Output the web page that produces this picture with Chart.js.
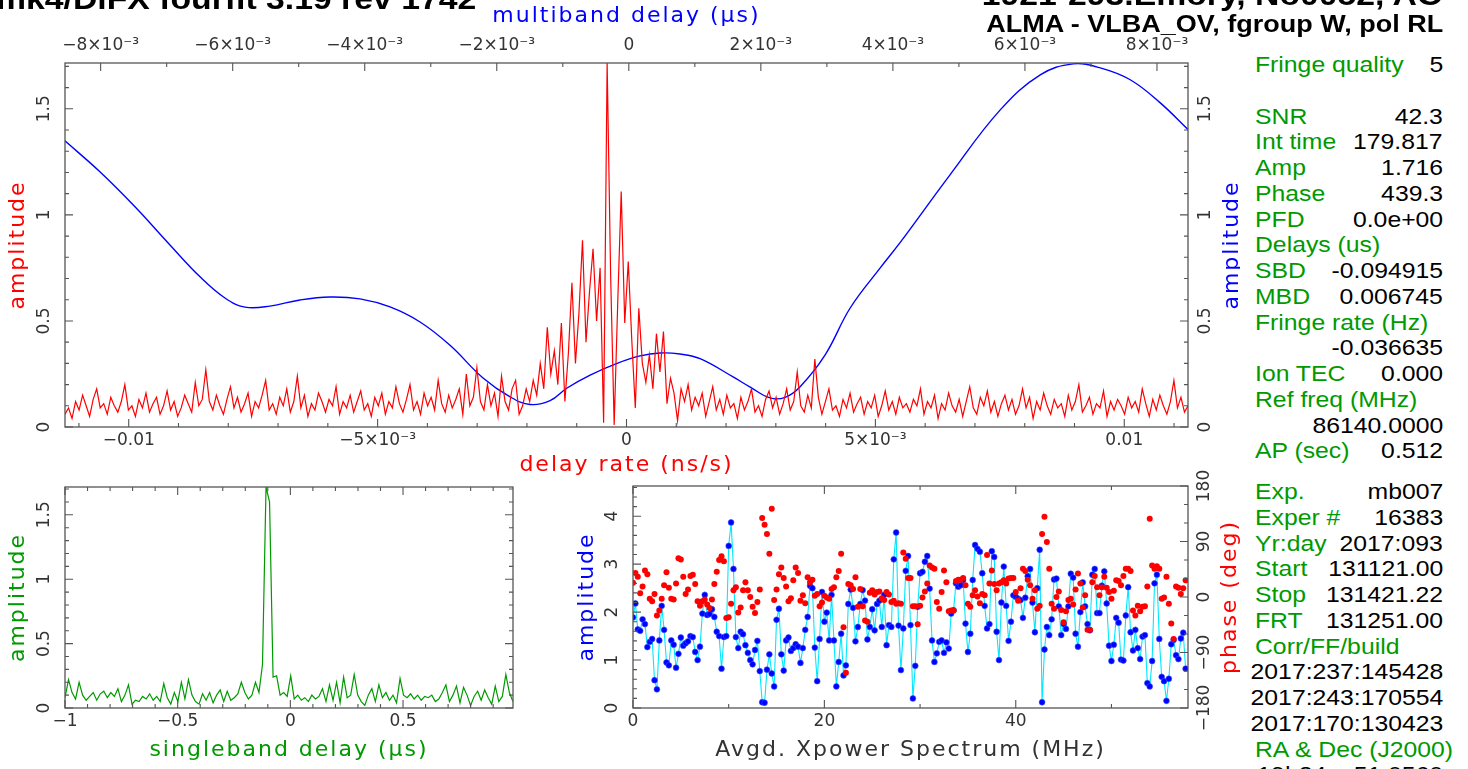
<!DOCTYPE html>
<html>
<head>
<meta charset="utf-8">
<script src="https://cdn.jsdelivr.net/npm/chart.js@4.4.1/dist/chart.umd.min.js"></script>
<style>
  html, body { margin: 0; padding: 0; background: #fff; }
  #page { position: relative; width: 1468px; height: 769px; overflow: hidden; background: #fff; }
  canvas { position: absolute; }
  .t { position: absolute; white-space: nowrap; line-height: 1; font-family: "Liberation Sans", Arial, sans-serif;
       font-size: 22px; transform: scaleX(1.125); transform-origin: left top; }
  .r { transform-origin: right top; text-align: right; }
  .g { color: #009a00; }
  .k { color: #000; }
  .b { font-weight: bold; color: #000; }
</style>
</head>
<body>
<div id="page">
  <canvas id="topChart" width="1240" height="480" style="left:0;top:0;width:1240px;height:480px"></canvas>
  <canvas id="sbdChart" width="560" height="299" style="left:0;top:470px;width:560px;height:299px"></canvas>
  <canvas id="specChart" width="680" height="299" style="left:560px;top:470px;width:680px;height:299px"></canvas>
  <div class="t b" style="left:-4px;top:-16px;font-size:30px">mk4/DiFX fourfit  3.19 rev 1742</div>
  <div class="t b r" style="right:25px;top:-20px;font-size:30px">1921-293.Emory, No0052, AO</div>
  <div class="t b r" style="right:25px;top:12px;font-size:24px">ALMA - VLBA_OV, fgroup W, pol RL</div>
</div>
<script>
// ---- delay rate spectrum (red, top panel) ----
const rateMin = -0.01128;
const rateMax = 0.01128;
const rateAmp = [
  0.06,0.09,0.04,0.12,0.08,0.15,0.10,0.05,0.13,0.18,0.09,0.11,0.06,0.14,0.10,0.07,0.12,0.20,0.08,0.10,
  0.05,0.13,0.09,0.16,0.07,0.11,0.14,0.06,0.10,0.17,0.08,0.12,0.05,0.09,0.15,0.11,0.07,0.21,0.10,0.13,
  0.27,0.12,0.08,0.15,0.10,0.06,0.13,0.19,0.09,0.14,0.07,0.11,0.16,0.05,0.12,0.09,0.15,0.22,0.08,0.11,
  0.06,0.14,0.10,0.18,0.07,0.12,0.24,0.09,0.15,0.05,0.11,0.08,0.16,0.12,0.07,0.13,0.10,0.19,0.06,0.12,
  0.09,0.15,0.07,0.12,0.17,0.08,0.11,0.05,0.14,0.10,0.16,0.06,0.12,0.09,0.19,0.11,0.07,0.13,0.20,0.08,
  0.12,0.06,0.16,0.10,0.14,0.08,0.22,0.11,0.07,0.15,0.09,0.13,0.18,0.06,0.25,0.10,0.14,0.28,0.12,0.08,
  0.20,0.10,0.16,0.05,0.24,0.12,0.08,0.18,0.22,0.06,
  0.10,0.18,0.12,0.22,0.15,0.30,0.18,0.47,0.25,0.36,0.20,0.49,0.12,0.35,0.68,0.30,0.54,0.88,0.40,0.64,
  0.84,0.50,0.75,0.02,1.716,0.71,0.01,0.58,1.11,0.49,0.78,0.41,0.09,0.56,0.30,0.21,0.34,0.18,0.44,0.26,
  0.45,0.11,0.23,0.16,0.03,0.18,0.12,0.20,0.08,0.14,
  0.10,0.16,0.05,0.12,0.19,0.08,0.13,0.06,0.15,0.09,0.11,0.04,0.14,0.08,0.12,0.18,0.07,0.10,0.05,0.13,
  0.17,0.09,0.14,0.06,0.11,0.18,0.08,0.12,0.26,0.10,0.07,0.15,0.09,0.32,0.14,0.06,0.12,0.18,0.08,0.10,
  0.05,0.13,0.09,0.16,0.07,0.11,0.14,0.06,0.12,0.09,0.15,0.05,0.10,0.17,0.08,0.12,0.06,0.14,0.09,0.11,
  0.07,0.13,0.10,0.18,0.06,0.12,0.09,0.15,0.04,0.11,0.08,0.16,0.10,0.07,0.13,0.05,0.12,0.19,0.09,0.06,
  0.14,0.10,0.17,0.07,0.12,0.05,0.11,0.15,0.08,0.13,0.06,0.10,0.18,0.09,0.14,0.04,0.12,0.08,0.16,0.10,
  0.06,0.13,0.09,0.11,0.05,0.15,0.08,0.12,0.20,0.07,0.10,0.14,0.06,0.11,0.09,0.17,0.05,0.12,0.08,0.13,
  0.10,0.06,0.14,0.09,0.12,0.07,0.18,0.11,0.05,0.13,0.08,0.15,0.10,0.06,0.12,0.22,0.09,0.14,0.07,0.10
];
const rateTicks = [-0.01, -0.005, 0, 0.005, 0.01];
const rateTickLabels = ['\u22120.01', '\u22125\u00d710\u207b\u00b3', '0', '5\u00d710\u207b\u00b3', '0.01'];

// ---- multiband delay function (blue, top panel) ----
const mbdMin = -0.00854;
const mbdMax = 0.00847;
const mbdDelay = [-0.008541,-0.008011,-0.007480,-0.006950,-0.006495,-0.006117,-0.005814,-0.005435,-0.004980,-0.004526,
  -0.004071,-0.003617,-0.003162,-0.002708,-0.002208,-0.001798,-0.001495,-0.001192,-0.000935,-0.000586,
  -0.000177,0.000171,0.000474,0.000777,0.001080,0.001580,0.001838,0.002141,0.002368,0.002595,
  0.002974,0.003353,0.003808,0.004111,0.004868,0.005626,0.006232,0.006732,0.007141,0.007595,0.008050,0.008474];
const mbdAmp = [1.349,1.203,1.038,0.858,0.708,0.608,0.565,0.570,0.599,0.613,
  0.604,0.566,0.495,0.385,0.231,0.142,0.106,0.124,0.184,0.245,
  0.300,0.335,0.349,0.344,0.322,0.236,0.188,0.137,0.140,0.190,
  0.340,0.561,0.750,0.870,1.190,1.495,1.660,1.712,1.693,1.637,1.528,1.401];
const mbdTicks = [-0.008,-0.006,-0.004,-0.002,0,0.002,0.004,0.006,0.008];
const mbdTickLabels = ['\u22128\u00d710\u207b\u00b3','\u22126\u00d710\u207b\u00b3','\u22124\u00d710\u207b\u00b3','\u22122\u00d710\u207b\u00b3','0',
  '2\u00d710\u207b\u00b3','4\u00d710\u207b\u00b3','6\u00d710\u207b\u00b3','8\u00d710\u207b\u00b3'];

const ampMax = 1.716;
const ampTicks = [0, 0.5, 1, 1.5];
const ampTickLabels = ['0', '0.5', '1', '1.5'];

// ---- singleband delay (green) ----
const sbdStart = -1;
const sbdStep = 0.01565;
const sbdAmp = [
  0.08,0.22,0.12,0.07,0.20,0.10,0.06,0.09,0.12,0.06,0.11,0.13,0.08,0.12,0.09,0.15,0.05,0.10,0.18,0.03,
  0.06,0.05,0.09,0.07,0.11,0.06,0.09,0.05,0.19,0.08,0.03,0.12,0.05,0.20,0.07,0.22,0.10,0.05,0.03,0.11,
  0.06,0.12,0.04,0.10,0.14,0.05,0.13,0.06,0.08,0.11,0.20,0.12,0.07,0.10,0.20,0.12,0.34,1.716,1.60,0.24,
  0.25,0.10,0.12,0.09,0.25,0.07,0.10,0.06,0.08,0.05,0.10,0.07,0.09,0.15,0.05,0.18,0.06,0.20,0.04,0.24,
  0.08,0.10,0.26,0.10,0.05,0.02,0.10,0.15,0.05,0.18,0.08,0.12,0.06,0.10,0.04,0.23,0.10,0.08,0.11,0.07,
  0.10,0.06,0.09,0.08,0.10,0.05,0.07,0.12,0.18,0.05,0.10,0.17,0.04,0.16,0.10,0.02,0.09,0.13,0.06,0.14,
  0.08,0.03,0.17,0.05,0.09,0.26,0.12,0.05
];
const sbdMax = 0.988;
const sbdTicks = [-1, -0.5, 0, 0.5];
const sbdTickLabels = ['\u22121', '\u22120.5', '0', '0.5'];

// ---- averaged cross-power spectrum ----
const specStep = 0.25;
const specMax = 58;
const specAmp = [
  1.89,2.18,1.64,1.61,1.85,1.75,1.27,1.38,1.44,0.58,0.39,1.41,2.13,1.63,0.95,0.89,1.41,1.32,0.84,1.13,
  1.47,1.30,1.35,1.39,1.50,1.48,1.17,1.00,1.28,1.97,2.36,1.94,1.96,2.06,1.90,1.59,1.50,0.82,1.48,1.50,
  3.38,3.87,2.90,1.48,1.25,1.59,1.54,1.31,1.15,1.00,0.91,1.21,1.40,0.77,0.12,0.11,0.80,1.12,0.72,0.45,
  1.84,2.07,1.12,0.78,1.41,1.47,1.19,1.25,1.33,1.28,0.94,1.25,1.63,1.90,2.55,2.50,1.26,0.56,1.44,2.42,
  1.80,1.99,1.41,2.36,1.41,0.45,0.96,1.55,0.68,0.89,2.17,2.47,2.09,1.39,1.69,2.17,2.46,2.24,1.43,1.69,
  2.06,1.62,2.17,2.24,1.69,2.36,1.31,1.73,1.69,3.10,3.66,
  1.72,0.79,1.66,2.86,3.17,1.73,0.20,0.88,2.11,2.81,2.84,3.05,3.17,2.49,1.41,0.96,1.14,1.38,1.41,1.15,
  1.37,1.24,1.97,2.04,2.60,2.53,2.56,2.67,1.76,1.17,1.55,2.67,3.40,3.32,3.26,2.81,2.13,1.66,1.75,3.27,
  3.15,1.59,1.00,2.20,2.95,2.13,1.40,1.80,2.35,2.32,2.28,2.25,1.88,2.30,2.75,2.90,2.20,1.58,2.50,3.30,
  0.12,1.22,1.69,1.52,1.85,2.68,2.70,2.12,1.52,1.75,1.65,2.12,2.80,2.72,1.55,1.28,2.00,2.62,2.12,1.75,
  1.62,2.78,2.90,1.98,1.98,2.55,2.85,2.18,1.30,0.98,1.32,1.88,1.78,1.01,0.99,1.93,2.52,1.58,1.20,1.63,
  1.25,1.02,1.49,1.52,0.52,0.45,0.98,2.60,2.78,1.44,0.65,0.56,0.15,0.61,1.33,1.42,1.10,1.02,1.45,1.57,
  0.82
];
const specPhase = [
  23,39,33,6,17,43,37,-3,-7,5,-30,-22,-3,19,40,15,-3,-4,22,63,
  61,33,5,12,34,36,21,-7,-14,-7,-4,-12,-18,-4,21,41,60,66,58,-34,
  -33,-11,11,16,-25,-17,11,24,11,0,-16,-26,-8,12,128,117,102,70,143,-5,
  12,37,48,31,17,-7,-2,27,48,39,-6,3,-10,32,24,28,2,5,-15,-9,
  2,-1,-3,13,16,32,42,70,-49,-123,21,19,13,32,-16,13,-15,-38,-40,7,
  11,4,8,9,-2,-5,8,4,-8,-6,-11,-10,-11,
  72,62,31,31,-15,-15,-44,-14,-1,9,22,51,48,46,-8,-19,8,43,24,-23,
  -22,-22,26,28,28,31,19,-11,-16,3,11,1,-10,5,3,68,22,43,21,11,
  22,24,27,22,30,31,31,8,-6,14,46,42,28,19,-3,11,-19,-14,102,130,
  89,46,-11,-19,0,9,-21,-41,-23,-5,-3,-12,12,38,22,-17,3,-53,-53,24,
  34,16,3,16,33,15,8,-3,10,27,26,19,34,46,46,42,-22,-30,-14,-23,
  -16,-15,17,127,51,46,50,46,-3,-1,33,-11,-43,-68,17,15,5,14,27
];
const specAmpMax = 4.63;
const specTicks = [0, 20, 40];
const specAmpTicks = [0, 1, 2, 3, 4];
const phaseTicks = [-180, -90, 0, 90, 180];
const phaseTickLabels = ['\u2212180', '\u221290', '0', '90', '180'];

// ---- text panel ----
const infoTop = [
  ['Fringe quality', '5'], null,
  ['SNR', '42.3'], ['Int time', '179.817'], ['Amp', '1.716'], ['Phase', '439.3'], ['PFD', '0.0e+00'],
  ['Delays (us)', ''], ['SBD', '-0.094915'], ['MBD', '0.006745'], ['Fringe rate (Hz)', ''], ['', '-0.036635'],
  ['Ion TEC', '0.000'], ['Ref freq (MHz)', ''], ['', '86140.0000'], ['AP (sec)', '0.512']
];
const infoBottom = [
  ['Exp.', 'mb007'], ['Exper #', '16383'], ['Yr:day', '2017:093'], ['Start', '131121.00'], ['Stop', '131421.22'],
  ['FRT', '131251.00'], ['Corr/FF/build', ''], ['', '2017:237:145428'], ['', '2017:243:170554'], ['', '2017:170:130423'],
  ['RA & Dec (J2000)', ''], ['', '19h24m  51.0560']
];

const RED = '#ff0000', BLUE = '#0000ff', GREEN = '#009a00', CYAN = '#00e8ff', INK = '#333';
const FAM = '"DejaVu Sans", sans-serif';

const page = document.getElementById('page');
function addRows(rows, top0, step) {
  rows.forEach((r, i) => {
    if (!r) return;
    const top = top0 + i * step;
    if (r[0]) {
      const d = document.createElement('div');
      d.className = 't g';
      d.style.left = '1255px'; d.style.top = top + 'px';
      d.textContent = r[0];
      page.appendChild(d);
    }
    if (r[1]) {
      const d = document.createElement('div');
      d.className = 't k r';
      d.style.right = '25px'; d.style.top = top + 'px';
      d.textContent = r[1];
      page.appendChild(d);
    }
  });
}
addRows(infoTop, 54, 25.75);
addRows(infoBottom, 481, 25.75);

// frame, inward ticks, rotated y labels and axis titles (PGPLOT style)
const pgBox = {
  id: 'pgBox',
  afterDatasetsDraw(chart, args, o) {
    const { ctx, chartArea: a, scales } = chart;
    ctx.save();
    ctx.strokeStyle = '#555';
    ctx.lineWidth = 1.3;
    ctx.strokeRect(a.left, a.top, a.right - a.left, a.bottom - a.top);
    ctx.lineWidth = 1.1;
    for (const t of o.ticks) {
      const s = scales[t.scale];
      const n0 = Math.ceil(s.min / t.minor - 1e-6), n1 = Math.floor(s.max / t.minor + 1e-6);
      ctx.beginPath();
      for (let n = n0; n <= n1; n++) {
        const v = n * t.minor;
        const r = v / t.major;
        const len = Math.abs(r - Math.round(r)) < 1e-6 ? 8 : 4;
        const p = s.getPixelForValue(v);
        for (const side of t.sides) {
          if (side === 'bottom') { ctx.moveTo(p, a.bottom); ctx.lineTo(p, a.bottom - len); }
          if (side === 'top') { ctx.moveTo(p, a.top); ctx.lineTo(p, a.top + len); }
          if (side === 'left') { ctx.moveTo(a.left, p); ctx.lineTo(a.left + len, p); }
          if (side === 'right') { ctx.moveTo(a.right, p); ctx.lineTo(a.right - len, p); }
        }
      }
      ctx.stroke();
    }
    ctx.textAlign = 'center';
    ctx.textBaseline = 'middle';
    ctx.font = '17px ' + FAM;
    for (const l of o.yLabels) {
      const s = scales[l.scale];
      ctx.fillStyle = INK;
      l.values.forEach((v, i) => {
        ctx.save();
        ctx.translate(l.x, s.getPixelForValue(v));
        ctx.rotate(-Math.PI / 2);
        ctx.fillText(l.labels[i], 0, 0);
        ctx.restore();
      });
    }
    ctx.font = '22px ' + FAM;
    ctx.letterSpacing = '2px';
    for (const ti of o.titles) {
      ctx.fillStyle = ti.color;
      ctx.save();
      if (ti.y !== undefined) {
        ctx.translate((a.left + a.right) / 2, ti.y);
      } else {
        ctx.translate(ti.x, (a.top + a.bottom) / 2);
        ctx.rotate(-Math.PI / 2);
      }
      ctx.fillText(ti.text, 0, 0);
      ctx.restore();
    }
    ctx.restore();
  }
};

function xAxis(opts) {
  return {
    type: 'linear', position: opts.position || 'bottom', min: opts.min, max: opts.max,
    afterFit: s => { s.height = opts.height; },
    afterBuildTicks: s => { s.ticks = opts.ticks.map(v => ({ value: v })); },
    ticks: { callback: (v, i) => opts.labels[i], font: { family: FAM, size: 17 }, color: INK,
             padding: opts.pad, autoSkip: false, maxRotation: 0, minRotation: 0 },
    grid: { display: false, drawTicks: false, tickLength: 0 },
    border: { display: false },
    title: { display: false }
  };
}
function yAxis(opts) {
  return {
    type: 'linear', position: opts.position || 'left', min: opts.min, max: opts.max,
    afterFit: s => { s.width = opts.width; },
    ticks: { display: false },
    grid: { display: false, drawTicks: false, tickLength: 0 },
    border: { display: false },
    title: { display: false }
  };
}
const common = {
  responsive: false, animation: false, devicePixelRatio: 1,
  plugins: { legend: { display: false }, tooltip: { enabled: false } }
};

// top panel
new Chart(document.getElementById('topChart'), {
  type: 'line',
  data: {
    datasets: [
      { data: rateAmp.map((v, i) => ({ x: rateMin + i * (rateMax - rateMin) / (rateAmp.length - 1), y: v })),
        xAxisID: 'x', yAxisID: 'y', borderColor: RED, borderWidth: 1.2, pointRadius: 0, tension: 0 },
      { data: mbdDelay.map((d, i) => ({ x: d, y: mbdAmp[i] })),
        xAxisID: 'x2', yAxisID: 'y2', borderColor: BLUE, borderWidth: 1.4, pointRadius: 0, tension: 0.4 }
    ]
  },
  options: {
    ...common,
    layout: { padding: 0 },
    plugins: {
      ...common.plugins,
      pgBox: {
        ticks: [
          { scale: 'x', minor: 0.001, major: 0.005, sides: ['bottom'] },
          { scale: 'x2', minor: 0.001, major: 0.002, sides: ['top'] },
          { scale: 'y', minor: 0.1, major: 0.5, sides: ['left'] },
          { scale: 'y2', minor: 0.1, major: 0.5, sides: ['right'] }
        ],
        yLabels: [
          { scale: 'y', x: 45, values: ampTicks, labels: ampTickLabels },
          { scale: 'y2', x: 1206, values: ampTicks, labels: ampTickLabels }
        ],
        titles: [
          { text: 'amplitude', x: 18, color: RED },
          { text: 'amplitude', x: 1232, color: BLUE },
          { text: 'delay rate (ns/s)', y: 465, color: RED },
          { text: 'multiband delay (\u00b5s)', y: 16, color: BLUE }
        ]
      }
    },
    scales: {
      x: xAxis({ min: rateMin, max: rateMax, height: 53, ticks: rateTicks, labels: rateTickLabels, pad: 3 }),
      x2: xAxis({ position: 'top', min: mbdMin, max: mbdMax, height: 63, ticks: mbdTicks, labels: mbdTickLabels, pad: 7 }),
      y: yAxis({ min: 0, max: ampMax, width: 65 }),
      y2: yAxis({ position: 'right', min: 0, max: ampMax, width: 52 })
    }
  },
  plugins: [pgBox]
});

// singleband delay panel
new Chart(document.getElementById('sbdChart'), {
  type: 'line',
  data: {
    datasets: [
      { data: sbdAmp.map((v, i) => ({ x: sbdStart + i * sbdStep, y: v })),
        borderColor: GREEN, borderWidth: 1.2, pointRadius: 0, tension: 0 }
    ]
  },
  options: {
    ...common,
    layout: { padding: { top: 17, right: 47, left: 0, bottom: 0 } },
    plugins: {
      ...common.plugins,
      pgBox: {
        ticks: [
          { scale: 'x', minor: 0.1, major: 0.5, sides: ['bottom', 'top'] },
          { scale: 'y', minor: 0.1, major: 0.5, sides: ['left', 'right'] }
        ],
        yLabels: [{ scale: 'y', x: 45, values: ampTicks, labels: ampTickLabels }],
        titles: [
          { text: 'amplitude', x: 18, color: GREEN },
          { text: 'singleband delay (\u00b5s)', y: 280, color: GREEN }
        ]
      }
    },
    scales: {
      x: xAxis({ min: sbdStart, max: sbdMax, height: 61, ticks: sbdTicks, labels: sbdTickLabels, pad: 3 }),
      y: yAxis({ min: 0, max: ampMax, width: 65 })
    }
  },
  plugins: [pgBox]
});

// cross-power spectrum panel
new Chart(document.getElementById('specChart'), {
  type: 'line',
  data: {
    datasets: [
      { data: specPhase.map((v, i) => ({ x: i * specStep, y: v })), yAxisID: 'y2',
        showLine: false, pointRadius: 3, pointBackgroundColor: RED, pointBorderColor: RED, pointBorderWidth: 0 },
      { data: specAmp.map((v, i) => ({ x: i * specStep, y: v })), yAxisID: 'y',
        borderColor: CYAN, borderWidth: 1.1, tension: 0,
        pointRadius: 2.9, pointBackgroundColor: BLUE, pointBorderColor: '#3050ff', pointBorderWidth: 0.6 }
    ]
  },
  options: {
    ...common,
    layout: { padding: { top: 16, right: 0, left: 0, bottom: 0 } },
    plugins: {
      ...common.plugins,
      pgBox: {
        ticks: [
          { scale: 'x', minor: 10, major: 20, sides: ['bottom', 'top'] },
          { scale: 'y', minor: 0.2, major: 1, sides: ['left'] },
          { scale: 'y2', minor: 30, major: 90, sides: ['right'] }
        ],
        yLabels: [
          { scale: 'y', x: 53, values: specAmpTicks, labels: specAmpTicks.map(String) },
          { scale: 'y2', x: 645, values: phaseTicks, labels: phaseTickLabels }
        ],
        titles: [
          { text: 'amplitude', x: 27, color: BLUE },
          { text: 'phase (deg)', x: 670, color: RED },
          { text: 'Avgd. Xpower Spectrum (MHz)', y: 280, color: INK }
        ]
      }
    },
    scales: {
      x: xAxis({ min: 0, max: specMax, height: 61, ticks: specTicks, labels: specTicks.map(String), pad: 3 }),
      y: yAxis({ min: 0, max: specAmpMax, width: 73 }),
      y2: yAxis({ position: 'right', min: -180, max: 180, width: 52 })
    }
  },
  plugins: [pgBox]
});
</script>
</body>
</html>
